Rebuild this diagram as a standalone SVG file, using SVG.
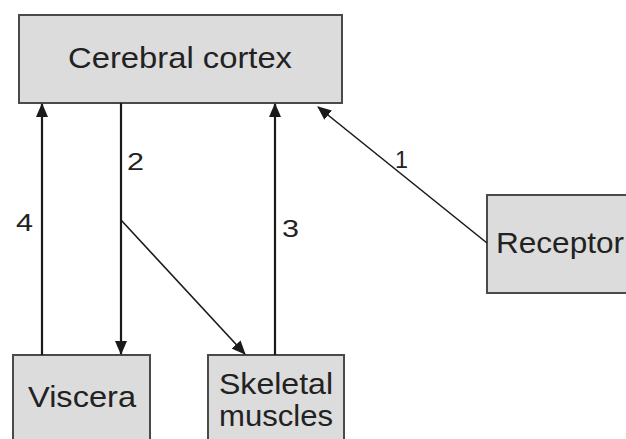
<svg xmlns="http://www.w3.org/2000/svg" width="626" height="439" viewBox="0 0 626 439">
<style>
.box{fill:#dcdcdc;stroke:#4a4a4a;stroke-width:2}
.lbl{font-family:"Liberation Sans",Arial,sans-serif;font-size:30px;fill:#222;text-anchor:middle}
.num{font-family:"Liberation Sans",Arial,sans-serif;font-size:23px;fill:#222}
.ln{stroke:#1a1a1a;stroke-width:2.2;fill:none}
.thin{stroke:#1a1a1a;stroke-width:1.6;fill:none}
</style>
<defs>
<marker id="ah" markerUnits="userSpaceOnUse" markerWidth="14" markerHeight="12" refX="13" refY="6" orient="auto">
<path d="M0,0 L14,6 L0,12 Z" fill="#1a1a1a"/>
</marker>
</defs>
<rect x="0" y="0" width="626" height="439" fill="#ffffff"/>
<g id="cortex">
<rect class="box" x="19" y="15" width="323" height="88"/>
<text class="lbl" x="180" y="68" textLength="224" lengthAdjust="spacingAndGlyphs">Cerebral cortex</text>
</g>
<g id="viscera">
<rect class="box" x="13" y="355" width="137" height="95"/>
<text class="lbl" x="82" y="407" textLength="108" lengthAdjust="spacingAndGlyphs">Viscera</text>
</g>
<g id="skeletal">
<rect class="box" x="208" y="355" width="136" height="95"/>
<text class="lbl" x="276" y="394" textLength="114" lengthAdjust="spacingAndGlyphs">Skeletal</text>
<text class="lbl" x="276" y="426" textLength="114" lengthAdjust="spacingAndGlyphs">muscles</text>
</g>
<g id="receptor">
<rect class="box" x="487" y="195" width="150" height="98"/>
<text class="lbl" x="496" y="253" style="text-anchor:start" textLength="128" lengthAdjust="spacingAndGlyphs">Receptor</text>
</g>
<g id="connectors">
<line class="ln" x1="42" y1="355" x2="42" y2="104" marker-end="url(#ah)"/>
<line class="ln" x1="121" y1="103" x2="121" y2="354" marker-end="url(#ah)"/>
<line class="thin" x1="121" y1="220" x2="245" y2="354" marker-end="url(#ah)"/>
<line class="ln" x1="275" y1="355" x2="275" y2="104" marker-end="url(#ah)"/>
<line class="thin" x1="487" y1="243" x2="318" y2="107" marker-end="url(#ah)"/>
<text class="num" x="127" y="170" textLength="17" lengthAdjust="spacingAndGlyphs">2</text>
<text class="num" x="16" y="231" textLength="17" lengthAdjust="spacingAndGlyphs">4</text>
<text class="num" x="282" y="237" textLength="17" lengthAdjust="spacingAndGlyphs">3</text>
<text class="num" x="395" y="168" textLength="13" lengthAdjust="spacingAndGlyphs">1</text>
</g>
</svg>
